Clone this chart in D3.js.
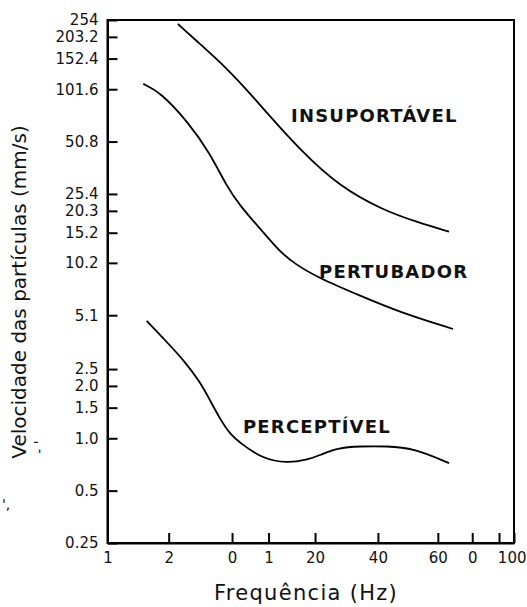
<!DOCTYPE html>
<html>
<head>
<meta charset="utf-8">
<script src="https://cdn.jsdelivr.net/npm/d3@7"></script>
<style>
  html, body { margin: 0; padding: 0; background: #fff; }
  svg { display: block; }
  text { fill: #111; }
</style>
</head>
<body>
<svg id="chart" width="527" height="607"></svg>
<script>
// Vibration limit curves: particle velocity (mm/s) versus frequency (Hz), log-log

// Y axis ticks (mm/s) and their labels
const yTickValues = [254, 203.2, 152.4, 101.6, 50.8, 25.4, 20.3, 15.2, 10.2, 5.1, 2.5, 2.0, 1.5, 1.0, 0.5, 0.25];
const yTickLabels = ["254", "203.2", "152.4", "101.6", "50.8", "25.4", "20.3", "15.2", "10.2", "5.1", "2.5", "2.0", "1.5", "1.0", "0.5", "0.25"];

// X axis ticks (Hz) and their printed labels
const xTickValues = [1, 2, 4.1, 6.2, 10.5, 21.4, 42.2, 62.3, 84.4, 100];
const xTickLabels = ["1", "2", "0", "1", "20", "40", "60", "0", "", "100"];

// Curve: INSUPORTÁVEL
const freqInsuportavel = [2.22, 2.85, 3.58, 4.75, 6.09, 8.85, 13.9, 22.7, 33.3, 47.9];
const velInsuportavel  = [241, 185, 145.9, 103.4, 74.2, 45.5, 27.9, 20.5, 17.5, 15.4];

// Curve: PERTUBADOR
const freqPertubador = [1.50, 1.81, 2.49, 3.19, 3.87, 4.49, 5.75, 7.06, 8.37, 10.7, 17.5, 27.5, 50.1];
const velPertubador  = [109, 98.1, 65.9, 43.7, 27.9, 21.7, 15.6, 11.8, 10.05, 8.46, 6.6, 5.3, 4.25];

// Curve: PERCEPTÍVEL
const freqPerceptivel = [1.56, 1.92, 2.41, 2.85, 3.19, 3.58, 4.0, 4.49, 5.82, 7.64, 9.58, 11.1, 13.5, 17.5, 23.7, 31.8, 47.9];
const velPerceptivel  = [4.73, 3.67, 2.75, 2.11, 1.66, 1.29, 1.06, 0.94, 0.76, 0.72, 0.75, 0.80, 0.88, 0.90, 0.90, 0.88, 0.72];

// Zone names with anchor points (Hz, mm/s)
const zoneNames = ["INSUPORTÁVEL", "PERTUBADOR", "PERCEPTÍVEL"];
const zoneHz    = [8.0, 10.98, 4.64];
const zoneVel   = [65.9, 8.35, 1.07];

const svg = d3.select("#chart");
const plot = { left: 107.5, right: 514, top: 20, bottom: 543 };

const x = d3.scaleLog().domain([1, 100]).range([plot.left, plot.right]);
const y = d3.scaleLog().domain([0.25, 254]).range([plot.bottom, plot.top]);

const tickFont = "'DejaVu Sans', sans-serif";

// Frame
svg.append("rect")
  .attr("x", plot.left).attr("y", plot.top)
  .attr("width", plot.right - plot.left).attr("height", plot.bottom - plot.top)
  .attr("fill", "none").attr("stroke", "#000").attr("stroke-width", 2);

// Left axis, ticks pointing inward
const yAxis = d3.axisLeft(y)
  .tickValues(yTickValues)
  .tickFormat((d, i) => yTickLabels[i])
  .tickSizeInner(-10).tickSizeOuter(0).tickPadding(9);

const gy = svg.append("g").attr("transform", `translate(${plot.left},0)`).call(yAxis);
gy.select(".domain").attr("stroke-width", 2);
gy.selectAll(".tick line").attr("stroke-width", 2);
gy.selectAll(".tick text").attr("font-family", tickFont).attr("font-size", 15).attr("fill", "#111");

// Bottom axis, ticks pointing inward
const xAxis = d3.axisBottom(x)
  .tickValues(xTickValues)
  .tickFormat((d, i) => xTickLabels[i])
  .tickSizeInner(-10).tickSizeOuter(0).tickPadding(9);

const gx = svg.append("g").attr("transform", `translate(0,${plot.bottom})`).call(xAxis);
gx.select(".domain").attr("stroke-width", 2);
gx.selectAll(".tick line").attr("stroke-width", 2);
gx.selectAll(".tick text").attr("font-family", tickFont).attr("font-size", 15).attr("fill", "#111");
// last label sits against the right margin
gx.selectAll(".tick text").filter((d, i) => i === xTickValues.length - 1)
  .attr("text-anchor", "end").attr("dx", 12);

// Curves
const line = d3.line()
  .x(d => x(d[0]))
  .y(d => y(d[1]))
  .curve(d3.curveBasis);

const curves = [
  d3.zip(freqInsuportavel, velInsuportavel),
  d3.zip(freqPertubador, velPertubador),
  d3.zip(freqPerceptivel, velPerceptivel)
];

svg.append("g").selectAll("path")
  .data(curves)
  .join("path")
  .attr("d", line)
  .attr("fill", "none")
  .attr("stroke", "#000")
  .attr("stroke-width", 1.8);

// Zone names
svg.append("g").selectAll("text")
  .data(zoneNames)
  .join("text")
  .attr("x", (d, i) => x(zoneHz[i]))
  .attr("y", (d, i) => y(zoneVel[i]))
  .attr("font-family", tickFont)
  .attr("font-weight", "bold")
  .attr("font-size", 18)
  .attr("letter-spacing", 1.2)
  .text(d => d);

// Axis titles
svg.append("text")
  .attr("x", 306).attr("y", 600)
  .attr("text-anchor", "middle")
  .attr("font-family", tickFont)
  .attr("font-size", 21)
  .attr("letter-spacing", 1.3)
  .text("Frequência (Hz)");

svg.append("text")
  .attr("transform", "translate(26,292) rotate(-90)")
  .attr("text-anchor", "middle")
  .attr("font-family", tickFont)
  .attr("font-size", 20)
  .text("Velocidade das partículas (mm/s)");

// Stray marks at the left margin
svg.append("text")
  .attr("transform", "translate(44,447) rotate(-90)")
  .attr("text-anchor", "middle")
  .attr("font-family", tickFont)
  .attr("font-size", 14)
  .text("- '");
svg.append("text")
  .attr("x", 2).attr("y", 509)
  .attr("font-family", tickFont)
  .attr("font-size", 14)
  .text("',");
</script>
</body>
</html>
